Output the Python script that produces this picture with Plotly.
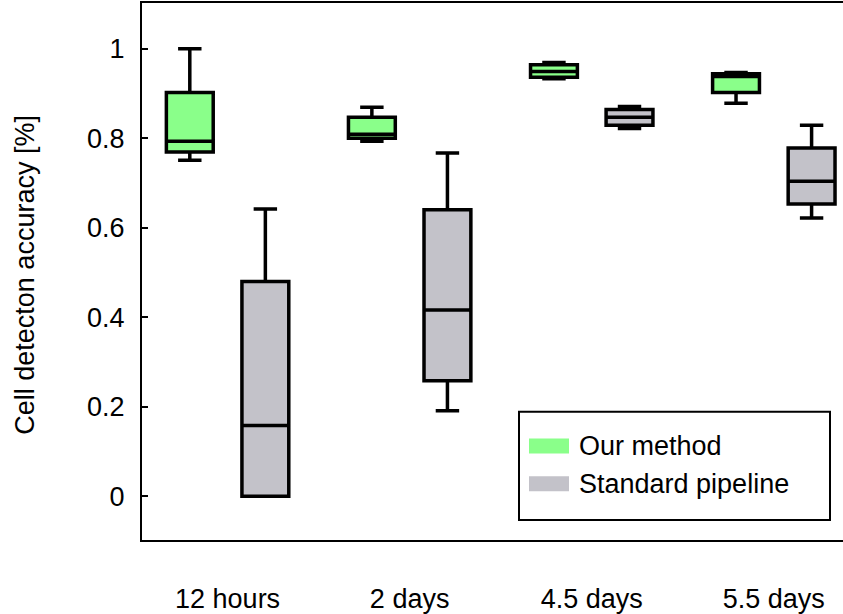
import plotly.graph_objects as go

categories = ["12 hours", "2 days", "4.5 days", "5.5 days"]
series_names = ["Our method", "Standard pipeline"]

ours_min = [0.751, 0.793, 0.933, 0.878]
ours_q1 = [0.769, 0.800, 0.936, 0.902]
ours_med = [0.793, 0.809, 0.949, 0.938]
ours_q3 = [0.902, 0.847, 0.964, 0.944]
ours_max = [1.000, 0.869, 0.969, 0.947]

std_min = [0.000, 0.191, 0.822, 0.622]
std_q1 = [0.000, 0.258, 0.829, 0.653]
std_med = [0.158, 0.416, 0.847, 0.704]
std_q3 = [0.480, 0.640, 0.864, 0.778]
std_max = [0.642, 0.767, 0.871, 0.829]

yticks = [0, 0.2, 0.4, 0.6, 0.8, 1]
ytick_text = ["0", "0.2", "0.4", "0.6", "0.8", "1"]
y_title = "Cell detecton accuracy [%]"

GREEN = "#8AFF8A"
GRAY = "#C3C2C9"
FONT = "Arial, Liberation Sans, sans-serif"
FS = 27

fig = go.Figure()
for name, mn, q1, md, q3, mx, col in [
    (series_names[0], ours_min, ours_q1, ours_med, ours_q3, ours_max, GREEN),
    (series_names[1], std_min, std_q1, std_med, std_q3, std_max, GRAY),
]:
    fig.add_trace(go.Box(
        x=categories, q1=q1, median=md, q3=q3, lowerfence=mn, upperfence=mx,
        name=name, fillcolor=col, line=dict(color="black", width=3.5),
        whiskerwidth=0.5, boxpoints=False, showlegend=False, hoverinfo="skip",
    ))

fig.update_layout(
    width=843, height=614,
    margin=dict(l=142, r=0, t=3, b=71),
    plot_bgcolor="white", paper_bgcolor="white",
    boxmode="group", boxgap=0.17, boxgroupgap=0.38,
    font=dict(family=FONT, size=FS, color="black"),
    xaxis=dict(
        type="category", categoryorder="array", categoryarray=categories,
        range=[-0.47, 3.38], showline=True, linecolor="black", linewidth=2,
        mirror=True, ticks="", showgrid=False, zeroline=False,
        ticklabelstandoff=34, tickfont=dict(size=FS),
    ),
    yaxis=dict(
        range=[-0.0978, 1.1022], tickvals=yticks, ticktext=ytick_text,
        showline=True, linecolor="black", linewidth=2, mirror=False,
        ticks="inside", ticklen=6, tickwidth=2, tickcolor="black",
        showgrid=False, zeroline=False, ticklabelstandoff=10,
        tickfont=dict(size=FS),
    ),
)

# y-axis title
fig.add_annotation(
    text=y_title, xref="paper", yref="paper", x=-0.1669, y=0.494,
    xanchor="center", yanchor="middle", textangle=-90, showarrow=False,
    font=dict(size=FS, family=FONT, color="black"),
)

# legend drawn as box with swatches
W = 701.0
H = 540.0
def px(xp):
    return (xp - 142) / W
def py(yp):
    return (543 - yp) / H

fig.add_shape(type="rect", xref="paper", yref="paper",
              x0=px(519), x1=px(830), y0=py(523), y1=py(414),
              line=dict(color="black", width=2), fillcolor="white", layer="above")
for name, col, yc in [(series_names[0], GREEN, 448.5), (series_names[1], GRAY, 486.5)]:
    fig.add_shape(type="rect", xref="paper", yref="paper",
                  x0=px(529), x1=px(569), y0=py(yc + 7.5), y1=py(yc - 7.5),
                  line=dict(width=0), fillcolor=col, layer="above")
    fig.add_annotation(text=name, xref="paper", yref="paper", x=px(577), y=py(yc),
                       xanchor="left", yanchor="middle", showarrow=False,
                       font=dict(size=FS, family=FONT, color="black"))

fig.write_html("out.html")
